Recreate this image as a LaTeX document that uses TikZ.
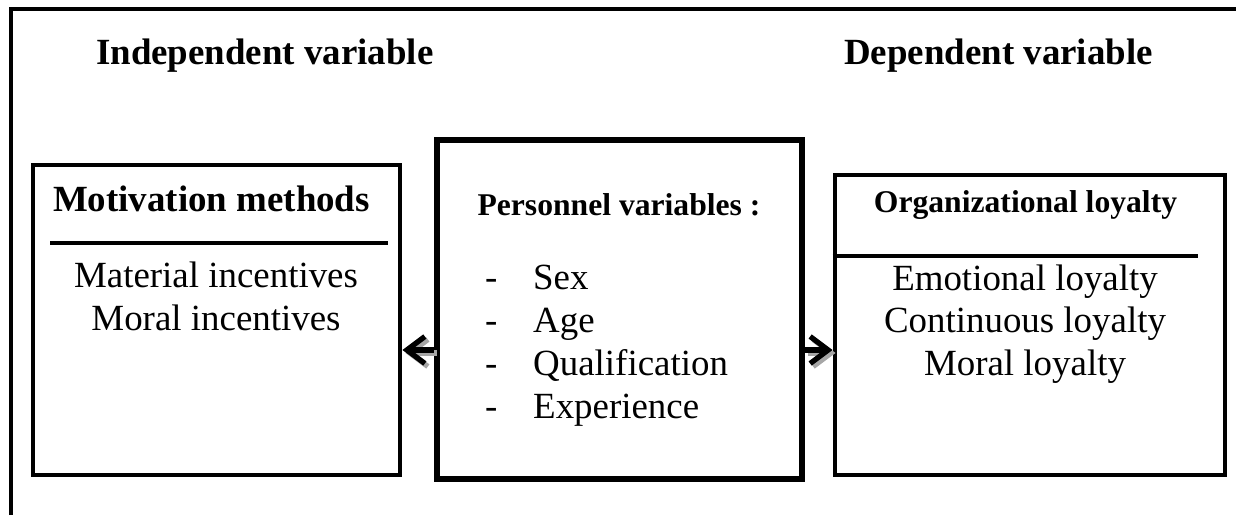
\documentclass[tikz,border=0pt]{standalone}
\usepackage{fontspec}
\setmainfont{Liberation Serif}
\usepackage{tikz}
\usetikzlibrary{arrows.meta,positioning,calc}

\begin{document}
\begin{tikzpicture}[>=Stealth,
  bigtxt/.style={font=\fontsize{21}{25}\selectfont},
  headtxt/.style={font=\fontsize{21}{25}\selectfont\bfseries},
  subtxt/.style={font=\fontsize{18}{22}\selectfont\bfseries},
  varbox/.style={draw,line width=2.8pt,inner sep=0pt},
  arr/.style={line width=3pt,-{Straight Barb[length=3.6mm,width=5.4mm]}},
  arrshadow/.style={arr,black!35}]
\useasboundingbox (0,0) rectangle (24.72,10.3);
% frame
\draw[line width=2pt] (0.22,0) -- (0.22,10.12) -- (24.72,10.12);
\node[headtxt,anchor=base west] (indep) at (1.8,9.0) {Independent variable};
\node[headtxt,anchor=base west] (dep) at (16.76,9.0) {Dependent variable};
% independent box
\node[varbox,minimum width=7.34cm,minimum height=6.2cm] (mot) at (4.33,3.9) {};
\node[headtxt,anchor=base] (motT) at (4.23,6.06) {Motivation methods};
\draw[line width=2.5pt] (1.0,5.44) -- (7.76,5.44);
\node[bigtxt,anchor=base] (mat) at (4.32,4.56) {Material incentives};
\node[bigtxt,anchor=base] (mor) at (4.32,3.7) {Moral incentives};
% personnel box
\node[varbox,line width=3.3pt,minimum width=7.3cm,minimum height=6.78cm] (pers) at (12.39,4.11) {};
\node[subtxt,anchor=base] (persT) at (12.38,6.0) {Personnel variables :};
\node[bigtxt,anchor=base west] (d1) at (9.58,4.52) {-};
\node[bigtxt,anchor=base west] (sex) at (10.54,4.52) {Sex};
\node[bigtxt,anchor=base west] (d2) at (9.58,3.66) {-};
\node[bigtxt,anchor=base west] (age) at (10.54,3.66) {Age};
\node[bigtxt,anchor=base west] (d3) at (9.58,2.8) {-};
\node[bigtxt,anchor=base west] (qual) at (10.54,2.8) {Qualification};
\node[bigtxt,anchor=base west] (d4) at (9.58,1.94) {-};
\node[bigtxt,anchor=base west] (exp) at (10.54,1.94) {Experience};
% dependent box
\node[varbox,minimum width=7.8cm,minimum height=6.0cm] (org) at (20.6,3.8) {};
\node[subtxt,anchor=base] (orgT) at (20.51,6.04) {Organizational loyalty};
\draw[line width=2.3pt] (org.west |- 0,5.18) -- (23.96,5.18);
\node[bigtxt,anchor=base] (emo) at (20.5,4.5) {Emotional loyalty};
\node[bigtxt,anchor=base] (con) at (20.5,3.66) {Continuous loyalty};
\node[bigtxt,anchor=base] (morl) at (20.5,2.8) {Moral loyalty};
% arrows
\coordinate (ay) at (0,3.3);
\draw[arrshadow] ([shift={(0.06,-0.06)}]pers.west |- ay) -- ([shift={(0.06,-0.06)}]mot.east |- ay);
\draw[arrshadow] ([shift={(0.06,-0.06)}]pers.east |- ay) -- ([shift={(0.06,-0.06)}]org.west |- ay);
\draw[arr] (pers.west |- ay) -- (mot.east |- ay);
\draw[arr] (pers.east |- ay) -- (org.west |- ay);
\end{tikzpicture}
\end{document}
